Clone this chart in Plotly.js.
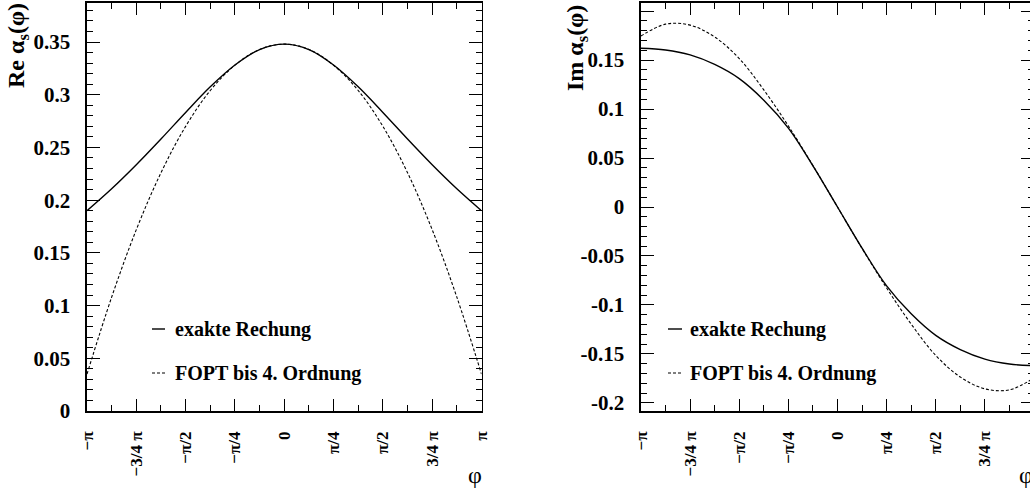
<!DOCTYPE html>
<html>
<head>
<meta charset="utf-8">
<script src="https://cdn.plot.ly/plotly-3.0.1.min.js"></script>
<style>
  html, body { margin: 0; padding: 0; overflow: hidden; background: #fff; }
  #chart { width: 1045px; height: 491px; }
</style>
</head>
<body>
<div id="chart"></div>
<script>
// Running coupling on the complex circle s = s0·e^{iφ}; φ given in units of π.
const phi = [-1, -0.875, -0.75, -0.625, -0.5, -0.375, -0.25, -0.125, 0,
             0.125, 0.25, 0.375, 0.5, 0.625, 0.75, 0.875, 1];

// Re α_s(φ)
const reExact = [0.190, 0.2108, 0.2336, 0.258, 0.2832, 0.3075, 0.3282, 0.3428, 0.348,
                 0.3428, 0.3282, 0.3075, 0.2832, 0.258, 0.2336, 0.2108, 0.190];
const reFopt  = [0.035, 0.108, 0.172, 0.226, 0.270, 0.304, 0.328, 0.343, 0.348,
                 0.343, 0.328, 0.304, 0.270, 0.226, 0.172, 0.108, 0.035];

// Im α_s(φ)
const imExact = [0.162, 0.1602, 0.1552, 0.1455, 0.131, 0.109, 0.0805, 0.042, 0,
                 -0.042, -0.0805, -0.109, -0.131, -0.1455, -0.1552, -0.1602, -0.162];
const imFopt  = [0.1745, 0.1866, 0.1856, 0.1735, 0.1515, 0.1195, 0.0827, 0.0423, 0,
                 -0.0423, -0.0827, -0.1195, -0.1515, -0.1735, -0.1856, -0.1866, -0.1745];

// Axis ticks
const phiTicks  = [-1, -0.75, -0.5, -0.25, 0, 0.25, 0.5, 0.75, 1];
const phiLabels = ["\u2212\u03c0", "\u22123/4 \u03c0", "\u2212\u03c0/2", "\u2212\u03c0/4", "0",
                   "\u03c0/4", "\u03c0/2", "3/4 \u03c0", "\u03c0"];
const reTicks  = [0, 0.05, 0.1, 0.15, 0.2, 0.25, 0.3, 0.35];
const reLabels = ["0", "0.05", "0.1", "0.15", "0.2", "0.25", "0.3", "0.35"];
const imTicks  = [-0.2, -0.15, -0.1, -0.05, 0, 0.05, 0.1, 0.15, 0.2];
const imLabels = ["-0.2", "-0.15", "-0.1", "-0.05", "0", "0.05", "0.1", "0.15", "0.2"];

const legendNames = ["exakte Rechung", "FOPT bis 4. Ordnung"];

const W = 1045, H = 491;
const px = v => v / W;
const py = v => 1 - v / H;

const serif = "Liberation Serif";
const solidLine = { color: "#000", width: 1.4, shape: "spline", smoothing: 1 };
const dashLine  = { color: "#000", width: 1.1, dash: "3px,2px", shape: "spline", smoothing: 1 };

const traces = [
  { x: phi, y: reExact, xaxis: "x",  yaxis: "y",  mode: "lines", line: solidLine, name: legendNames[0] },
  { x: phi, y: reFopt,  xaxis: "x",  yaxis: "y",  mode: "lines", line: dashLine,  name: legendNames[1] },
  { x: phi, y: imExact, xaxis: "x2", yaxis: "y2", mode: "lines", line: solidLine, name: legendNames[0] },
  { x: phi, y: imFopt,  xaxis: "x2", yaxis: "y2", mode: "lines", line: dashLine,  name: legendNames[1] }
];

function xAxis(dom, anchor) {
  return {
    domain: dom, anchor: anchor, range: [-1, 1],
    tickmode: "array", tickvals: phiTicks, ticktext: phiLabels, tickangle: -90,
    ticks: "inside", ticklen: 12, tickwidth: 1, tickcolor: "#000",
    minor: { ticks: "inside", ticklen: 6, tickwidth: 1, tickcolor: "#000",
             tickmode: "linear", tick0: 0, dtick: 0.125, showgrid: false },
    showline: true, linecolor: "#000", linewidth: 1.6, mirror: "ticks",
    showgrid: false, zeroline: false,
    tickfont: { family: serif, size: 17, color: "#000", weight: "bold" },
    ticklabelstandoff: 12
  };
}
function yAxis(dom, anchor, range, vals, labels) {
  return {
    domain: dom, anchor: anchor, range: range,
    tickmode: "array", tickvals: vals, ticktext: labels,
    ticks: "inside", ticklen: 13, tickwidth: 1, tickcolor: "#000",
    minor: { ticks: "inside", ticklen: 6, tickwidth: 1, tickcolor: "#000",
             tickmode: "linear", tick0: 0, dtick: 0.01, showgrid: false },
    showline: true, linecolor: "#000", linewidth: 1.6, mirror: "ticks",
    showgrid: false, zeroline: false,
    tickfont: { family: serif, size: 21, color: "#000", weight: "bold" },
    ticklabelstandoff: 11
  };
}

const yDom = [(H - 411) / H, (H - 3) / H];

const textFont = { family: serif, size: 20, color: "#000", weight: "bold" };
const titleFont = { family: serif, size: 24, color: "#000", weight: "bold" };
const phiFont = { family: serif, size: 24, color: "#000" };

// Legend glyphs and labels for each panel
function legendItems(x0, x1, xt) {
  return {
    shapes: [
      { type: "line", xref: "paper", yref: "paper", x0: px(x0), x1: px(x1), y0: py(329), y1: py(329),
        line: { color: "#000", width: 1.4 } },
      { type: "line", xref: "paper", yref: "paper", x0: px(x0), x1: px(x1), y0: py(373), y1: py(373),
        line: { color: "#000", width: 1.1, dash: "3px,2px" } }
    ],
    annotations: [
      { xref: "paper", yref: "paper", x: px(xt), y: py(329), xanchor: "left", yanchor: "middle",
        text: legendNames[0], showarrow: false, font: textFont },
      { xref: "paper", yref: "paper", x: px(xt), y: py(373), xanchor: "left", yanchor: "middle",
        text: legendNames[1], showarrow: false, font: textFont }
    ]
  };
}
const legL = legendItems(152, 165, 173);
const legR = legendItems(668, 682, 688);

const layout = {
  width: W, height: H,
  margin: { l: 0, r: 0, t: 0, b: 0, pad: 0 },
  paper_bgcolor: "#fff", plot_bgcolor: "#fff",
  showlegend: false,
  font: { family: serif, color: "#000" },
  xaxis:  xAxis([87 / W, 481.5 / W], "y"),
  yaxis:  yAxis(yDom, "x", [0, 0.387], reTicks, reLabels),
  xaxis2: xAxis([641 / W, 1034 / W], "y2"),
  yaxis2: yAxis(yDom, "x2", [-0.2082, 0.2082], imTicks, imLabels),
  shapes: legL.shapes.concat(legR.shapes),
  annotations: legL.annotations.concat(legR.annotations).concat([
    { xref: "paper", yref: "paper", x: px(18), y: py(46), xanchor: "center", yanchor: "middle",
      text: "Re \u03b1<sub>s</sub>(\u03c6)", textangle: -90, showarrow: false, font: titleFont },
    { xref: "paper", yref: "paper", x: px(577), y: py(48), xanchor: "center", yanchor: "middle",
      text: "Im \u03b1<sub>s</sub>(\u03c6)", textangle: -90, showarrow: false, font: titleFont },
    { xref: "paper", yref: "paper", x: px(475), y: py(475), xanchor: "center", yanchor: "middle",
      text: "\u03c6", showarrow: false, font: phiFont },
    { xref: "paper", yref: "paper", x: px(1026), y: py(475), xanchor: "center", yanchor: "middle",
      text: "\u03c6", showarrow: false, font: phiFont }
  ])
};

Plotly.newPlot("chart", traces, layout, { displayModeBar: false, staticPlot: true });
</script>
</body>
</html>
